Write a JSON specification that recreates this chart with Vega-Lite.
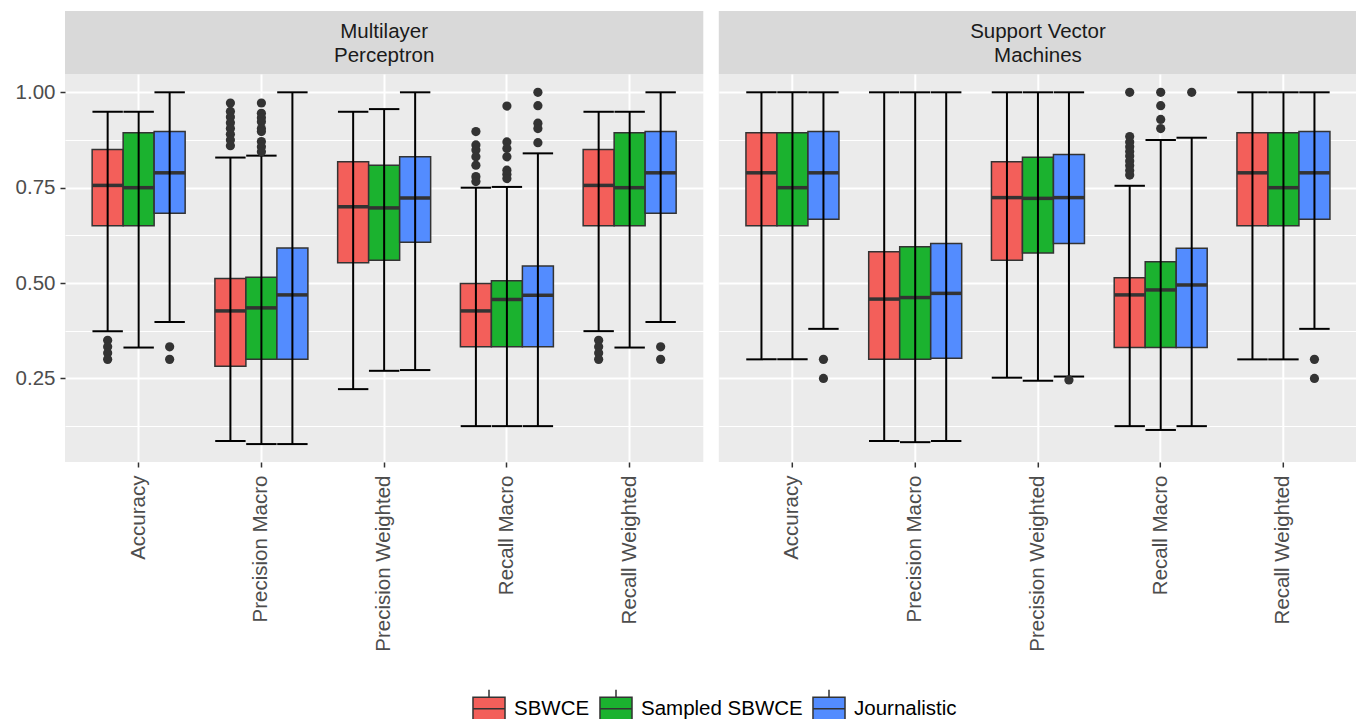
{
  "$schema": "https://vega.github.io/schema/vega-lite/v6.json",
  "background": "white",
  "padding": {"left": 0, "top": 11, "right": 0, "bottom": 0},
  "config": {
    "font": "Liberation Sans",
    "view": {"stroke": null},
    "legend": {
      "direction": "horizontal",
      "title": null,
      "symbolType": "M-0.85,-0.6H0.85V0.6H-0.85Z M-0.85,0H0.85 M0,-0.6V-1 M0,0.6V1",
      "symbolSize": 1420,
      "symbolStrokeColor": "#333333",
      "symbolStrokeWidth": 1.5,
      "symbolOpacity": 1,
      "labelFontSize": 20.5,
      "labelFont": "Liberation Sans",
      "labelColor": "#000000",
      "labelOffset": 5,
      "labelLimit": 400,
      "columnPadding": 6
    }
  },
  "datasets": {
    "strips": [
      {"model": "MLP", "label": "Multilayer\nPerceptron"},
      {"model": "SVM", "label": "Support Vector\nMachines"}
    ],
    "boxes": [
      {"model": "MLP", "metric": "Accuracy", "group": "SBWCE", "lo": 0.374, "q1": 0.650, "med": 0.756, "q3": 0.850, "hi": 0.949},
      {"model": "MLP", "metric": "Accuracy", "group": "Sampled SBWCE", "lo": 0.331, "q1": 0.650, "med": 0.750, "q3": 0.894, "hi": 0.949},
      {"model": "MLP", "metric": "Accuracy", "group": "Journalistic", "lo": 0.398, "q1": 0.683, "med": 0.789, "q3": 0.897, "hi": 1.0},
      {"model": "MLP", "metric": "Precision Macro", "group": "SBWCE", "lo": 0.086, "q1": 0.282, "med": 0.427, "q3": 0.512, "hi": 0.829},
      {"model": "MLP", "metric": "Precision Macro", "group": "Sampled SBWCE", "lo": 0.078, "q1": 0.300, "med": 0.435, "q3": 0.515, "hi": 0.834},
      {"model": "MLP", "metric": "Precision Macro", "group": "Journalistic", "lo": 0.078, "q1": 0.300, "med": 0.469, "q3": 0.592, "hi": 1.0},
      {"model": "MLP", "metric": "Precision Weighted", "group": "SBWCE", "lo": 0.222, "q1": 0.553, "med": 0.700, "q3": 0.818, "hi": 0.949},
      {"model": "MLP", "metric": "Precision Weighted", "group": "Sampled SBWCE", "lo": 0.270, "q1": 0.560, "med": 0.697, "q3": 0.809, "hi": 0.956},
      {"model": "MLP", "metric": "Precision Weighted", "group": "Journalistic", "lo": 0.272, "q1": 0.607, "med": 0.723, "q3": 0.831, "hi": 1.0},
      {"model": "MLP", "metric": "Recall Macro", "group": "SBWCE", "lo": 0.125, "q1": 0.333, "med": 0.427, "q3": 0.499, "hi": 0.750},
      {"model": "MLP", "metric": "Recall Macro", "group": "Sampled SBWCE", "lo": 0.125, "q1": 0.333, "med": 0.457, "q3": 0.506, "hi": 0.752},
      {"model": "MLP", "metric": "Recall Macro", "group": "Journalistic", "lo": 0.125, "q1": 0.333, "med": 0.468, "q3": 0.545, "hi": 0.840},
      {"model": "MLP", "metric": "Recall Weighted", "group": "SBWCE", "lo": 0.374, "q1": 0.650, "med": 0.756, "q3": 0.850, "hi": 0.949},
      {"model": "MLP", "metric": "Recall Weighted", "group": "Sampled SBWCE", "lo": 0.331, "q1": 0.650, "med": 0.750, "q3": 0.894, "hi": 0.949},
      {"model": "MLP", "metric": "Recall Weighted", "group": "Journalistic", "lo": 0.398, "q1": 0.683, "med": 0.789, "q3": 0.897, "hi": 1.0},
      {"model": "SVM", "metric": "Accuracy", "group": "SBWCE", "lo": 0.300, "q1": 0.650, "med": 0.789, "q3": 0.894, "hi": 1.0},
      {"model": "SVM", "metric": "Accuracy", "group": "Sampled SBWCE", "lo": 0.300, "q1": 0.650, "med": 0.750, "q3": 0.894, "hi": 1.0},
      {"model": "SVM", "metric": "Accuracy", "group": "Journalistic", "lo": 0.380, "q1": 0.667, "med": 0.789, "q3": 0.897, "hi": 1.0},
      {"model": "SVM", "metric": "Precision Macro", "group": "SBWCE", "lo": 0.086, "q1": 0.300, "med": 0.458, "q3": 0.582, "hi": 1.0},
      {"model": "SVM", "metric": "Precision Macro", "group": "Sampled SBWCE", "lo": 0.083, "q1": 0.300, "med": 0.462, "q3": 0.595, "hi": 1.0},
      {"model": "SVM", "metric": "Precision Macro", "group": "Journalistic", "lo": 0.086, "q1": 0.303, "med": 0.473, "q3": 0.604, "hi": 1.0},
      {"model": "SVM", "metric": "Precision Weighted", "group": "SBWCE", "lo": 0.252, "q1": 0.560, "med": 0.724, "q3": 0.818, "hi": 1.0},
      {"model": "SVM", "metric": "Precision Weighted", "group": "Sampled SBWCE", "lo": 0.244, "q1": 0.579, "med": 0.722, "q3": 0.830, "hi": 1.0},
      {"model": "SVM", "metric": "Precision Weighted", "group": "Journalistic", "lo": 0.255, "q1": 0.604, "med": 0.724, "q3": 0.837, "hi": 1.0},
      {"model": "SVM", "metric": "Recall Macro", "group": "SBWCE", "lo": 0.125, "q1": 0.331, "med": 0.469, "q3": 0.514, "hi": 0.755},
      {"model": "SVM", "metric": "Recall Macro", "group": "Sampled SBWCE", "lo": 0.115, "q1": 0.331, "med": 0.482, "q3": 0.556, "hi": 0.875},
      {"model": "SVM", "metric": "Recall Macro", "group": "Journalistic", "lo": 0.125, "q1": 0.331, "med": 0.495, "q3": 0.591, "hi": 0.881},
      {"model": "SVM", "metric": "Recall Weighted", "group": "SBWCE", "lo": 0.300, "q1": 0.650, "med": 0.789, "q3": 0.894, "hi": 1.0},
      {"model": "SVM", "metric": "Recall Weighted", "group": "Sampled SBWCE", "lo": 0.300, "q1": 0.650, "med": 0.750, "q3": 0.894, "hi": 1.0},
      {"model": "SVM", "metric": "Recall Weighted", "group": "Journalistic", "lo": 0.380, "q1": 0.667, "med": 0.789, "q3": 0.897, "hi": 1.0}
    ],
    "outliers": [
      {"model": "MLP", "metric": "Accuracy", "group": "SBWCE", "value": 0.350},
      {"model": "MLP", "metric": "Accuracy", "group": "SBWCE", "value": 0.333},
      {"model": "MLP", "metric": "Accuracy", "group": "SBWCE", "value": 0.317},
      {"model": "MLP", "metric": "Accuracy", "group": "SBWCE", "value": 0.300},
      {"model": "MLP", "metric": "Accuracy", "group": "Journalistic", "value": 0.333},
      {"model": "MLP", "metric": "Accuracy", "group": "Journalistic", "value": 0.300},
      {"model": "MLP", "metric": "Precision Macro", "group": "SBWCE", "value": 0.972},
      {"model": "MLP", "metric": "Precision Macro", "group": "SBWCE", "value": 0.950},
      {"model": "MLP", "metric": "Precision Macro", "group": "SBWCE", "value": 0.935},
      {"model": "MLP", "metric": "Precision Macro", "group": "SBWCE", "value": 0.920},
      {"model": "MLP", "metric": "Precision Macro", "group": "SBWCE", "value": 0.905},
      {"model": "MLP", "metric": "Precision Macro", "group": "SBWCE", "value": 0.890},
      {"model": "MLP", "metric": "Precision Macro", "group": "SBWCE", "value": 0.875},
      {"model": "MLP", "metric": "Precision Macro", "group": "SBWCE", "value": 0.860},
      {"model": "MLP", "metric": "Precision Macro", "group": "Sampled SBWCE", "value": 0.972},
      {"model": "MLP", "metric": "Precision Macro", "group": "Sampled SBWCE", "value": 0.945},
      {"model": "MLP", "metric": "Precision Macro", "group": "Sampled SBWCE", "value": 0.933},
      {"model": "MLP", "metric": "Precision Macro", "group": "Sampled SBWCE", "value": 0.923},
      {"model": "MLP", "metric": "Precision Macro", "group": "Sampled SBWCE", "value": 0.905},
      {"model": "MLP", "metric": "Precision Macro", "group": "Sampled SBWCE", "value": 0.897},
      {"model": "MLP", "metric": "Precision Macro", "group": "Sampled SBWCE", "value": 0.871},
      {"model": "MLP", "metric": "Precision Macro", "group": "Sampled SBWCE", "value": 0.857},
      {"model": "MLP", "metric": "Precision Macro", "group": "Sampled SBWCE", "value": 0.844},
      {"model": "MLP", "metric": "Recall Macro", "group": "SBWCE", "value": 0.897},
      {"model": "MLP", "metric": "Recall Macro", "group": "SBWCE", "value": 0.862},
      {"model": "MLP", "metric": "Recall Macro", "group": "SBWCE", "value": 0.849},
      {"model": "MLP", "metric": "Recall Macro", "group": "SBWCE", "value": 0.831},
      {"model": "MLP", "metric": "Recall Macro", "group": "SBWCE", "value": 0.809},
      {"model": "MLP", "metric": "Recall Macro", "group": "SBWCE", "value": 0.779},
      {"model": "MLP", "metric": "Recall Macro", "group": "SBWCE", "value": 0.766},
      {"model": "MLP", "metric": "Recall Macro", "group": "Sampled SBWCE", "value": 0.964},
      {"model": "MLP", "metric": "Recall Macro", "group": "Sampled SBWCE", "value": 0.870},
      {"model": "MLP", "metric": "Recall Macro", "group": "Sampled SBWCE", "value": 0.853},
      {"model": "MLP", "metric": "Recall Macro", "group": "Sampled SBWCE", "value": 0.831},
      {"model": "MLP", "metric": "Recall Macro", "group": "Sampled SBWCE", "value": 0.796},
      {"model": "MLP", "metric": "Recall Macro", "group": "Sampled SBWCE", "value": 0.785},
      {"model": "MLP", "metric": "Recall Macro", "group": "Sampled SBWCE", "value": 0.774},
      {"model": "MLP", "metric": "Recall Macro", "group": "Journalistic", "value": 1.000},
      {"model": "MLP", "metric": "Recall Macro", "group": "Journalistic", "value": 0.965},
      {"model": "MLP", "metric": "Recall Macro", "group": "Journalistic", "value": 0.919},
      {"model": "MLP", "metric": "Recall Macro", "group": "Journalistic", "value": 0.905},
      {"model": "MLP", "metric": "Recall Macro", "group": "Journalistic", "value": 0.868},
      {"model": "MLP", "metric": "Recall Weighted", "group": "SBWCE", "value": 0.350},
      {"model": "MLP", "metric": "Recall Weighted", "group": "SBWCE", "value": 0.333},
      {"model": "MLP", "metric": "Recall Weighted", "group": "SBWCE", "value": 0.317},
      {"model": "MLP", "metric": "Recall Weighted", "group": "SBWCE", "value": 0.300},
      {"model": "MLP", "metric": "Recall Weighted", "group": "Journalistic", "value": 0.333},
      {"model": "MLP", "metric": "Recall Weighted", "group": "Journalistic", "value": 0.300},
      {"model": "SVM", "metric": "Accuracy", "group": "Journalistic", "value": 0.300},
      {"model": "SVM", "metric": "Accuracy", "group": "Journalistic", "value": 0.250},
      {"model": "SVM", "metric": "Precision Weighted", "group": "Journalistic", "value": 0.246},
      {"model": "SVM", "metric": "Recall Macro", "group": "SBWCE", "value": 1.000},
      {"model": "SVM", "metric": "Recall Macro", "group": "SBWCE", "value": 0.884},
      {"model": "SVM", "metric": "Recall Macro", "group": "SBWCE", "value": 0.870},
      {"model": "SVM", "metric": "Recall Macro", "group": "SBWCE", "value": 0.857},
      {"model": "SVM", "metric": "Recall Macro", "group": "SBWCE", "value": 0.845},
      {"model": "SVM", "metric": "Recall Macro", "group": "SBWCE", "value": 0.833},
      {"model": "SVM", "metric": "Recall Macro", "group": "SBWCE", "value": 0.820},
      {"model": "SVM", "metric": "Recall Macro", "group": "SBWCE", "value": 0.808},
      {"model": "SVM", "metric": "Recall Macro", "group": "SBWCE", "value": 0.795},
      {"model": "SVM", "metric": "Recall Macro", "group": "SBWCE", "value": 0.783},
      {"model": "SVM", "metric": "Recall Macro", "group": "Sampled SBWCE", "value": 1.000},
      {"model": "SVM", "metric": "Recall Macro", "group": "Sampled SBWCE", "value": 0.965},
      {"model": "SVM", "metric": "Recall Macro", "group": "Sampled SBWCE", "value": 0.929},
      {"model": "SVM", "metric": "Recall Macro", "group": "Sampled SBWCE", "value": 0.905},
      {"model": "SVM", "metric": "Recall Macro", "group": "Journalistic", "value": 1.000},
      {"model": "SVM", "metric": "Recall Weighted", "group": "Journalistic", "value": 0.300},
      {"model": "SVM", "metric": "Recall Weighted", "group": "Journalistic", "value": 0.250}
    ]
  },
  "spacing": 14.8,
  "hconcat": [
    {
      "bounds": "flush",
      "spacing": 0,
      "vconcat": [
        {
          "width": 638.3,
          "height": 63,
          "view": {"fill": "#D9D9D9", "stroke": null},
          "data": {"name": "strips"},
          "transform": [{"filter": "datum.model === 'MLP'"}],
          "mark": {"type": "text", "font": "Liberation Sans", "fontSize": 20.5, "color": "#1A1A1A", "lineBreak": "\n", "lineHeight": 24, "dy": -10.4},
          "encoding": {"text": {"field": "label", "type": "nominal"}}
        },
        {
          "width": 638.3,
          "height": 388,
          "view": {"fill": "#EBEBEB", "stroke": null},
          "data": {"name": "boxes"},
          "transform": [{"filter": "datum.model === 'MLP'"}],
          "encoding": {
            "x": {
              "field": "metric", "type": "nominal",
              "sort": ["Accuracy", "Precision Macro", "Precision Weighted", "Recall Macro", "Recall Weighted"],
              "scale": {"paddingInner": 0, "paddingOuter": 0.1},
              "axis": {"title": null, "labelAngle": -90, "labelAlign": "right", "labelBaseline": "middle", "labelFontSize": 20.5, "labelFont": "Liberation Sans", "labelColor": "#4D4D4D", "labelPadding": 8, "labelLimit": 400, "tickSize": 5, "tickWidth": 1.5, "tickColor": "#333333", "domain": false, "grid": true, "gridColor": "white", "gridWidth": 2, "tickBand": "center"}
            },
            "xOffset": {"field": "group", "type": "nominal", "sort": ["SBWCE", "Sampled SBWCE", "Journalistic"], "scale": {"paddingInner": 0, "paddingOuter": 0.48}}
          },
          "resolve": {"axis": {"y": "independent"}},
          "layer": [
            {
              "mark": {"type": "bar", "stroke": "#333333", "strokeWidth": 1.5, "opacity": 1},
              "encoding": {
                "y": {"field": "q3", "type": "quantitative", "scale": {"domain": [0.031, 1.048], "nice": false, "zero": false},
                  "axis": {"title": null, "values": [0.25, 0.5, 0.75, 1.0], "format": ".2f", "labelFontSize": 20.5, "labelFont": "Liberation Sans", "labelColor": "#4D4D4D", "labelPadding": 5, "tickSize": 5, "tickWidth": 1.5, "tickColor": "#333333", "domain": false, "grid": true, "gridColor": "white", "gridWidth": 2, "minExtent": 64.5, "maxExtent": 64.5}},
                "y2": {"field": "q1"},
                "color": {"field": "group", "type": "nominal",
                  "scale": {"domain": ["SBWCE", "Sampled SBWCE", "Journalistic"], "range": ["#F35F5A", "#1BB22F", "#538CFF"]},
                  "legend": {"title": null, "orient": "none", "direction": "horizontal", "legendX": 404, "legendY": 677.6, "labelLimit": 400}}
              }
            },
            {
              "mark": {"type": "tick", "orient": "horizontal", "size": 31, "thickness": 3.5, "color": "#333333", "opacity": 1},
              "encoding": {
                "y": {"field": "med", "type": "quantitative",
                  "axis": {"orient": "right", "title": null, "values": [0.125, 0.375, 0.625, 0.875], "labels": false, "ticks": false, "domain": false, "grid": true, "gridColor": "white", "gridWidth": 1, "minExtent": 0, "maxExtent": 0}}
              }
            },
            {
              "mark": {"type": "rule", "color": "black", "strokeWidth": 2},
              "encoding": {
                "y": {"field": "lo", "type": "quantitative", "axis": null},
                "y2": {"field": "hi"}
              }
            },
            {
              "mark": {"type": "tick", "orient": "horizontal", "size": 30.4, "thickness": 2, "color": "black", "opacity": 1},
              "encoding": {"y": {"field": "lo", "type": "quantitative", "axis": null}}
            },
            {
              "mark": {"type": "tick", "orient": "horizontal", "size": 30.4, "thickness": 2, "color": "black", "opacity": 1},
              "encoding": {"y": {"field": "hi", "type": "quantitative", "axis": null}}
            },
            {
              "data": {"name": "outliers"},
              "transform": [{"filter": "datum.model === 'MLP'"}],
              "mark": {"type": "point", "filled": true, "size": 85, "color": "#333333", "opacity": 1},
              "encoding": {"y": {"field": "value", "type": "quantitative", "axis": null}}
            }
          ]
        }
      ]
    },
    {
      "bounds": "flush",
      "spacing": 0,
      "vconcat": [
        {
          "width": 638.3,
          "height": 63,
          "view": {"fill": "#D9D9D9", "stroke": null},
          "data": {"name": "strips"},
          "transform": [{"filter": "datum.model === 'SVM'"}],
          "mark": {"type": "text", "font": "Liberation Sans", "fontSize": 20.5, "color": "#1A1A1A", "lineBreak": "\n", "lineHeight": 24, "dy": -10.4},
          "encoding": {"text": {"field": "label", "type": "nominal"}}
        },
        {
          "width": 638.3,
          "height": 388,
          "view": {"fill": "#EBEBEB", "stroke": null},
          "data": {"name": "boxes"},
          "transform": [{"filter": "datum.model === 'SVM'"}],
          "encoding": {
            "x": {
              "field": "metric", "type": "nominal",
              "sort": ["Accuracy", "Precision Macro", "Precision Weighted", "Recall Macro", "Recall Weighted"],
              "scale": {"paddingInner": 0, "paddingOuter": 0.1},
              "axis": {"title": null, "labelAngle": -90, "labelAlign": "right", "labelBaseline": "middle", "labelFontSize": 20.5, "labelFont": "Liberation Sans", "labelColor": "#4D4D4D", "labelPadding": 8, "labelLimit": 400, "tickSize": 5, "tickWidth": 1.5, "tickColor": "#333333", "domain": false, "grid": true, "gridColor": "white", "gridWidth": 2, "tickBand": "center"}
            },
            "xOffset": {"field": "group", "type": "nominal", "sort": ["SBWCE", "Sampled SBWCE", "Journalistic"], "scale": {"paddingInner": 0, "paddingOuter": 0.48}}
          },
          "resolve": {"axis": {"y": "independent"}},
          "layer": [
            {
              "mark": {"type": "bar", "stroke": "#333333", "strokeWidth": 1.5, "opacity": 1},
              "encoding": {
                "y": {"field": "q3", "type": "quantitative", "scale": {"domain": [0.031, 1.048], "nice": false, "zero": false},
                  "axis": {"title": null, "values": [0.25, 0.5, 0.75, 1.0], "labels": false, "ticks": false, "domain": false, "grid": true, "gridColor": "white", "gridWidth": 2, "minExtent": 0, "maxExtent": 0}},
                "y2": {"field": "q1"},
                "color": {"field": "group", "type": "nominal",
                  "scale": {"domain": ["SBWCE", "Sampled SBWCE", "Journalistic"], "range": ["#F35F5A", "#1BB22F", "#538CFF"]},
                  "legend": {"title": null, "orient": "none", "direction": "horizontal", "legendX": 404, "legendY": 677.6, "labelLimit": 400}}
              }
            },
            {
              "mark": {"type": "tick", "orient": "horizontal", "size": 31, "thickness": 3.5, "color": "#333333", "opacity": 1},
              "encoding": {
                "y": {"field": "med", "type": "quantitative",
                  "axis": {"orient": "right", "title": null, "values": [0.125, 0.375, 0.625, 0.875], "labels": false, "ticks": false, "domain": false, "grid": true, "gridColor": "white", "gridWidth": 1, "minExtent": 0, "maxExtent": 0}}
              }
            },
            {
              "mark": {"type": "rule", "color": "black", "strokeWidth": 2},
              "encoding": {
                "y": {"field": "lo", "type": "quantitative", "axis": null},
                "y2": {"field": "hi"}
              }
            },
            {
              "mark": {"type": "tick", "orient": "horizontal", "size": 30.4, "thickness": 2, "color": "black", "opacity": 1},
              "encoding": {"y": {"field": "lo", "type": "quantitative", "axis": null}}
            },
            {
              "mark": {"type": "tick", "orient": "horizontal", "size": 30.4, "thickness": 2, "color": "black", "opacity": 1},
              "encoding": {"y": {"field": "hi", "type": "quantitative", "axis": null}}
            },
            {
              "data": {"name": "outliers"},
              "transform": [{"filter": "datum.model === 'SVM'"}],
              "mark": {"type": "point", "filled": true, "size": 85, "color": "#333333", "opacity": 1},
              "encoding": {"y": {"field": "value", "type": "quantitative", "axis": null}}
            }
          ]
        }
      ]
    }
  ]
}
